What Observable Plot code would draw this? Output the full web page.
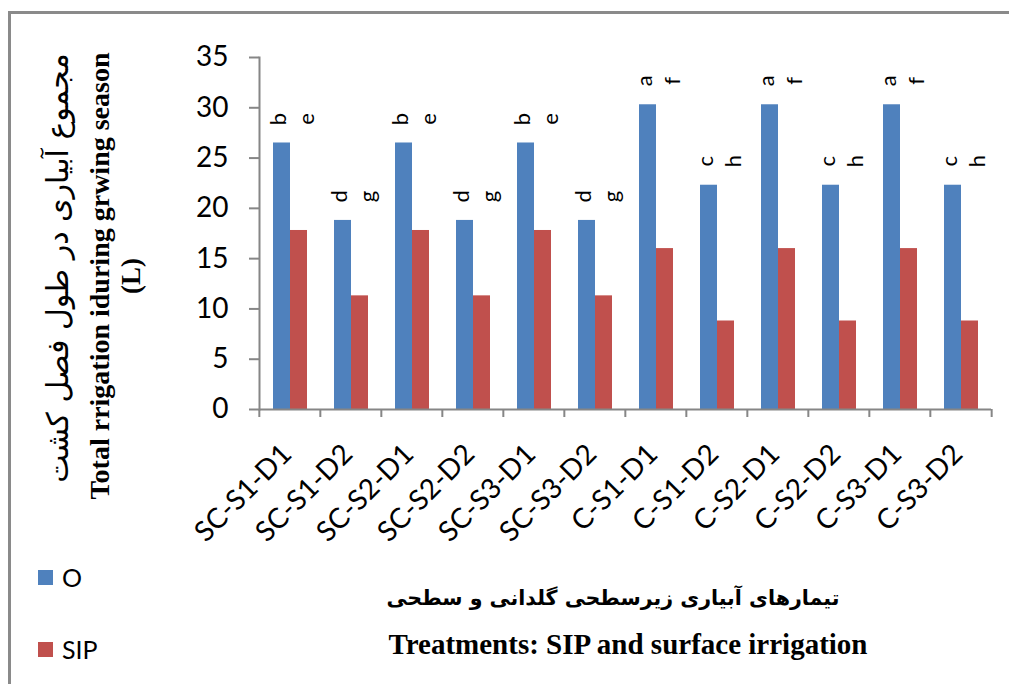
<!DOCTYPE html>
<html>
<head>
<meta charset="utf-8">
<script src="https://cdn.jsdelivr.net/npm/d3@7"></script>
<script src="https://cdn.jsdelivr.net/npm/@observablehq/plot@0.6"></script>
<style>
  html, body { margin: 0; padding: 0; background: #fff; }
  #page { position: relative; width: 1009px; height: 684px; overflow: hidden; background: #fff; }
  #border { position: absolute; left: 8px; top: 11px; width: 1100px; height: 800px;
            border-left: 3px solid #8a8a8a; border-top: 3px solid #8a8a8a; box-sizing: border-box; }
  #chart { position: absolute; left: 0; top: 0; }
  .rot { position: absolute; transform: translate(-50%, -50%) rotate(-90deg); white-space: nowrap; }
  .ctr { position: absolute; transform: translate(-50%, -50%); white-space: nowrap; }
  .serif { font-family: "Liberation Serif", "Times New Roman", serif; font-weight: bold; color: #000; }
  .fa { font-family: "DejaVu Sans", sans-serif; font-weight: bold; direction: rtl; color: #000; }
  .leg { position: absolute; font-family: Lato, sans-serif; font-size: 25px; color: #000; }
  .sw { position: absolute; width: 15px; height: 15px; }
</style>
</head>
<body>
<div id="page">
  <div id="border"></div>
  <div id="chart"></div>
  <div class="rot fa" id="yfa" style="left:57px; top:268px; font-size:30px; font-weight:normal;"></div>
  <div class="rot serif" id="yen1" style="left:100px; top:276px; font-size:28px;"></div>
  <div class="rot serif" id="yen2" style="left:131px; top:276px; font-size:27px;"></div>
  <div class="ctr fa" id="xfa" style="left:613px; top:598px; font-size:20.6px;"></div>
  <div class="ctr serif" id="xen" style="left:628px; top:644px; font-size:29px;"></div>
  <div id="legend"></div>
</div>
<script>
const categories = ["SC-S1-D1", "SC-S1-D2", "SC-S2-D1", "SC-S2-D2", "SC-S3-D1", "SC-S3-D2",
                    "C-S1-D1", "C-S1-D2", "C-S2-D1", "C-S2-D2", "C-S3-D1", "C-S3-D2"];
const series = ["O", "SIP"];
const oValues   = [26.5, 18.8, 26.5, 18.8, 26.5, 18.8, 30.3, 22.3, 30.3, 22.3, 30.3, 22.3];
const sipValues = [17.8, 11.3, 17.8, 11.3, 17.8, 11.3, 16.0, 8.8, 16.0, 8.8, 16.0, 8.8];
const oLetters   = ["b", "d", "b", "d", "b", "d", "a", "c", "a", "c", "a", "c"];
const sipLetters = ["e", "g", "e", "g", "e", "g", "f", "h", "f", "h", "f", "h"];
const yTicks = [0, 5, 10, 15, 20, 25, 30, 35];
const colors = ["#4F81BD", "#C0504D"];

const yTitleFa = "مجموع آبیاری در طول فصل کشت";
const yTitleEn1 = "Total rrigation iduring grwing season";
const yTitleEn2 = "(L)";
const xTitleFa = "تیمارهای آبیاری زیرسطحی گلدانی و سطحی";
const xTitleEn = "Treatments: SIP and surface irrigation";

document.getElementById("yfa").textContent = yTitleFa;
document.getElementById("yen1").textContent = yTitleEn1;
document.getElementById("yen2").textContent = yTitleEn2;
document.getElementById("xfa").textContent = xTitleFa;
document.getElementById("xen").textContent = xTitleEn;

const rows = [];
categories.forEach((c, i) => {
  rows.push({category: c, series: "O", value: oValues[i], letter: oLetters[i], labelY: oValues[i]});
  rows.push({category: c, series: "SIP", value: sipValues[i], letter: sipLetters[i], labelY: oValues[i]});
});

const grey = "#868686";
const chart = Plot.plot({
  width: 1009,
  height: 560,
  marginTop: 57,
  marginLeft: 257,
  marginRight: 16,
  marginBottom: 151,
  style: {fontFamily: "Lato, sans-serif", background: "transparent", color: "#000"},
  fx: {domain: categories, padding: 0, label: null},
  x: {domain: series, paddingInner: 0, paddingOuter: 0.77, axis: null},
  y: {domain: [0, 35], label: null},
  color: {domain: series, range: colors},
  marks: [
    Plot.barY(rows, {fx: "category", x: "series", y: "value", fill: "series"}),
    Plot.text(rows.filter(d => d.series === "O"), {fx: "category", x: "series", y: "labelY", text: "letter",
      rotate: -90, dy: -24, dx: -3, fontSize: 22, fill: "#000"}),
    Plot.text(rows.filter(d => d.series === "SIP"), {fx: "category", x: "series", y: "labelY", text: "letter",
      rotate: -90, dy: -24, dx: 8, fontSize: 22, fill: "#000"}),
    Plot.ruleY([0], {stroke: grey, strokeWidth: 2}),
    Plot.frame({anchor: "left", facetAnchor: "left", stroke: grey, strokeWidth: 2}),
    Plot.axisY({ticks: yTicks, tickSize: 10, tickFormat: () => "", color: grey, strokeWidth: 2, label: null}),
    Plot.axisY({ticks: yTicks, tickSize: 0, tickPadding: 31, fontSize: 28, color: "#000", label: null}),
    Plot.axisFx({anchor: "bottom", tickSize: 0, tickPadding: 40, tickRotate: -45, fontSize: 28, dx: -3, color: "#000", label: null}),
    Plot.axisFx({anchor: "bottom", tickSize: 8, tickFormat: () => "", dx: -30.67, color: grey, strokeWidth: 2, label: null}),
    Plot.axisFx({anchor: "bottom", ticks: [categories[categories.length - 1]], tickSize: 8, tickFormat: () => "", dx: 30.67, color: grey, strokeWidth: 2, label: null})
  ]
});
document.getElementById("chart").appendChild(chart);

const legend = document.getElementById("legend");
const legendTops = [578, 650];
series.forEach((s, i) => {
  const sw = document.createElement("div");
  sw.className = "sw";
  sw.style.left = "38px";
  sw.style.top = (legendTops[i] - 8) + "px";
  sw.style.background = colors[i];
  legend.appendChild(sw);
  const t = document.createElement("div");
  t.className = "leg";
  t.style.left = "62px";
  t.style.top = (legendTops[i] - 16) + "px";
  t.textContent = s;
  legend.appendChild(t);
});
</script>
</body>
</html>
